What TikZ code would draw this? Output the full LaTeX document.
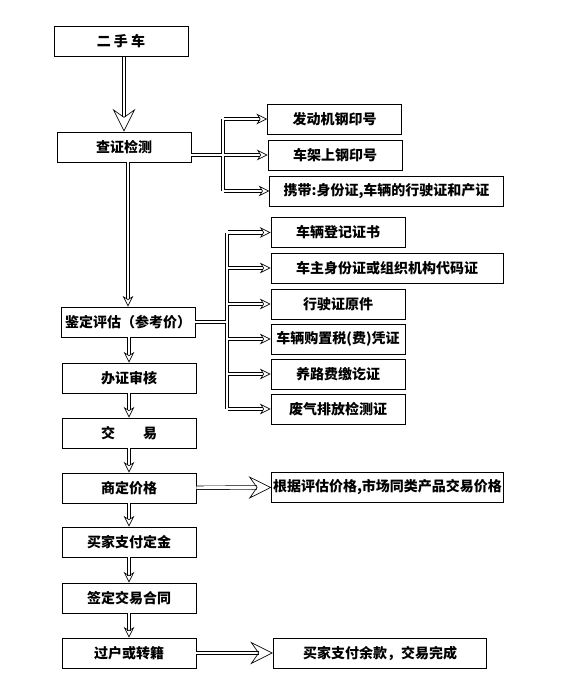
\documentclass[tikz,border=0pt]{standalone}
\usepackage{fontspec}
\setmainfont{Noto Sans CJK SC}
\usetikzlibrary{arrows.meta}
\tikzset{
box/.style = {rectangle, draw=black, line width=0.6pt, minimum width = #1,
              minimum height=22.5pt, inner sep=1pt, font=\bfseries\fontsize{10.5pt}{12pt}\selectfont},
box/.default = 100.5pt, % width of the box
pipe/.style = {double, double distance=2.2pt, line width=0.5pt},
bighead/.style = {pipe, -{Stealth[open, length=17pt, width=17pt, inset=6pt]}},
smallhead/.style = {pipe, -{Stealth[open, length=8pt, width=8pt, inset=2.5pt]}}
}

\begin{document}
\begin{tikzpicture}[x=0.75pt, y=-0.75pt]
\useasboundingbox (0,0) rectangle (570,699);

% main column
\node[box] (usedCar)  at (121,41.5) {二\ 手\ 车};
\node[box] (check)    at (124,147)  {查证检测};
\node[box] (assess)   at (128,322)  {鉴定评估（参考价）};
\node[box] (papers)   at (129,378)  {办证审核};
\node[box] (trade)    at (129,433)  {交\qquad 易};
\node[box] (price)    at (129,488)  {商定价格};
\node[box] (deposit)  at (129,542)  {买家支付定金};
\node[box] (contract) at (129,598)  {签定交易合同};
\node[box] (transfer) at (129,653)  {过户或转籍};

% checks
\node[box] (engine) at (334.5,119) {发动机钢印号};
\node[box] (frame)  at (335,155)   {车架上钢印号};
\node[box=175pt] (carry) at (386.5,191) {携带:身份证,车辆的行驶证和产证};

% documents
\node[box] (regist)  at (338,232.5) {车辆登记证书};
\node[box=174pt] (ownerId) at (387,268) {车主身份证或组织机构代码证};
\node[box] (license) at (338,304) {行驶证原件};
\node[box] (taxBill) at (338,339) {车辆购置税(费)凭证};
\node[box] (roadFee) at (338,374) {养路费缴讫证};
\node[box] (exhaust) at (338,409) {废气排放检测证};

% results
\node[box=173pt] (basis) at (387.5,487) {根据评估价格,市场同类产品交易价格};
\node[box=160pt] (finish) at (380,653) {买家支付余款，交易完成};

\coordinate (busA) at (223,0);
\coordinate (busB) at (227,0);

\draw[bighead] (usedCar.south -| check.north) -- (check.north);
\draw[smallhead] (check.south -| assess.north) -- (assess.north);
\draw[smallhead] (assess.south -| papers.north) -- (papers.north);
\draw[smallhead] (papers) -- (trade);
\draw[smallhead] (trade) -- (price);
\draw[smallhead] (price) -- (deposit);
\draw[smallhead] (deposit) -- (contract);
\draw[smallhead] (contract) -- (transfer);

\draw[bighead] (price) -- (basis);
\draw[bighead] (transfer) -- (finish);

% bus to the checks
\draw[pipe] (check.east |- frame) -- (busA |- frame) (busA |- engine) -- (busA |- carry);
\foreach \n in {engine, frame, carry}
  \draw[smallhead] ([xshift=1.1pt]busA |- \n) -- (\n.west);

% bus to the documents
\draw[pipe] (assess.east) -- (busB |- assess) (busB |- regist) -- (busB |- exhaust);
\foreach \n in {regist, ownerId, license, taxBill, roadFee, exhaust}
  \draw[smallhead] ([xshift=1.1pt]busB |- \n) -- (\n.west);
\end{tikzpicture}
\end{document}
